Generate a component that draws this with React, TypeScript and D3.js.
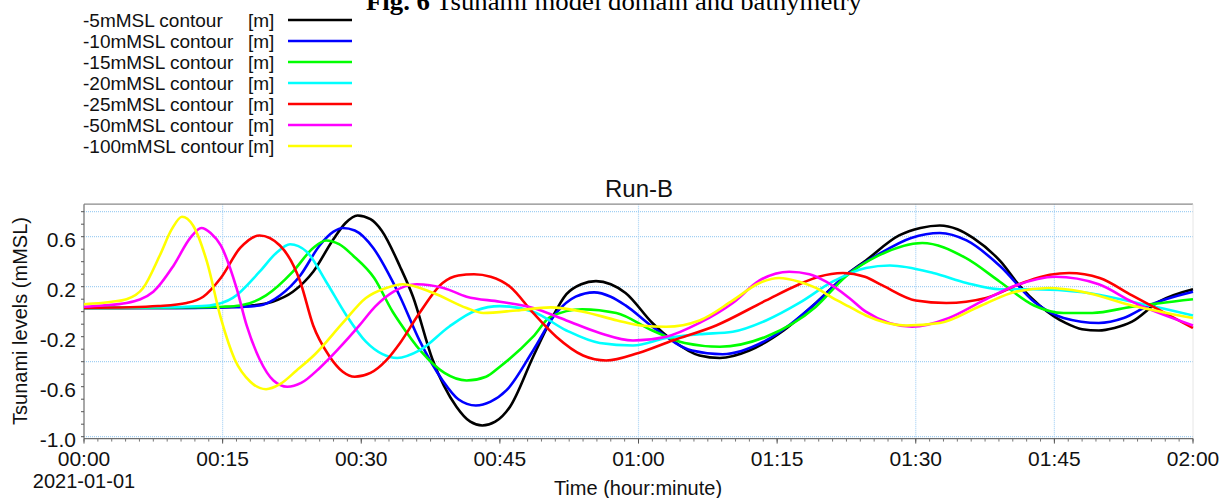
import React from 'react';
import * as d3 from 'd3';

type Pt = [number, number];

// time in minutes, level in mMSL
const contour5: Pt[] = [[0,0.03],[10,0.03],[15,0.035],[17.6,0.045],[20.4,0.08],[22.6,0.16],[24.8,0.32],[26.9,0.57],[28.3,0.71],[29.6,0.77],[31,0.74],[32.2,0.65],[34.2,0.36],[35.6,0.12],[37.7,-0.38],[40.3,-0.76],[41.8,-0.88],[43.1,-0.91],[44.5,-0.88],[46.1,-0.76],[48.6,-0.36],[50.5,-0.07],[52.2,0.14],[53.8,0.22],[55.4,0.245],[57,0.22],[58.6,0.15],[61.5,-0.09],[63.7,-0.23],[66.6,-0.35],[68.8,-0.37],[72,-0.31],[75.7,-0.15],[79.2,0.07],[82.4,0.29],[84.6,0.41],[88.2,0.61],[90.5,0.67],[92.6,0.69],[94.5,0.66],[96.2,0.59],[99.2,0.4],[101.2,0.21],[103.4,0.05],[106.2,-0.09],[108,-0.14],[109.8,-0.15],[111.5,-0.13],[113.4,-0.08],[116.3,0.08],[120,0.18]];
const contour10: Pt[] = [[0,0.03],[12,0.03],[16,0.035],[19,0.05],[21.2,0.13],[23.4,0.29],[25.5,0.53],[27,0.64],[28,0.67],[29.3,0.65],[31.3,0.51],[33.4,0.24],[34.2,0.12],[36.3,-0.23],[38.8,-0.55],[40.5,-0.7],[42.4,-0.75],[44,-0.72],[45.7,-0.63],[48.6,-0.31],[51.1,-0.01],[53.2,0.12],[55.2,0.155],[57,0.12],[58.6,0.05],[61.5,-0.12],[65.8,-0.31],[69.1,-0.34],[73.8,-0.23],[79.2,0.07],[82.4,0.29],[86,0.46],[89.5,0.59],[92.6,0.63],[95.5,0.57],[99.2,0.36],[102.8,0.08],[106,-0.05],[109.8,-0.09],[112.5,-0.05],[115.2,0.05],[120,0.16]];
const contour15: Pt[] = [[0,0.03],[12,0.035],[15,0.04],[16.9,0.05],[19.7,0.13],[22.6,0.32],[24.8,0.51],[26.2,0.57],[27.6,0.54],[29.1,0.45],[31.4,0.27],[33.4,0.0],[34.2,-0.09],[36.5,-0.32],[39,-0.49],[41.4,-0.55],[43.5,-0.52],[45,-0.44],[48.6,-0.2],[50.5,-0.04],[53.9,0.02],[57.6,-0.01],[61.5,-0.15],[65,-0.25],[68.8,-0.28],[73.8,-0.2],[79.2,0.04],[82.4,0.28],[86,0.45],[90.7,0.55],[95.4,0.43],[99.1,0.24],[102.8,0.05],[106,-0.01],[109.1,-0.01],[113.4,0.04],[120,0.1]];
const contour20: Pt[] = [[0,0.03],[8,0.035],[11,0.04],[13.6,0.05],[16.1,0.11],[19,0.32],[20.8,0.47],[22.3,0.54],[24.1,0.48],[26.2,0.24],[28.4,-0.03],[30.5,-0.24],[32.3,-0.34],[33.9,-0.37],[36.3,-0.31],[39.5,-0.12],[42.4,0.01],[45,0.045],[48.6,0.0],[52.2,-0.15],[55.8,-0.25],[59.4,-0.27],[63,-0.21],[66.6,-0.18],[70.2,-0.16],[73.8,-0.07],[77.4,0.07],[81,0.24],[84.6,0.35],[87.2,0.37],[91.9,0.31],[95.5,0.23],[99.1,0.18],[102.7,0.18],[108.1,0.155],[113.4,0.08],[120,-0.03]];
const contour25: Pt[] = [[0,0.03],[5,0.035],[8,0.045],[11.1,0.07],[12.9,0.12],[14.8,0.27],[16.9,0.51],[19,0.61],[21.2,0.53],[23.4,0.24],[24.8,-0.11],[26.5,-0.35],[28,-0.48],[29.3,-0.52],[31,-0.49],[32.7,-0.39],[34.2,-0.25],[36.3,-0.01],[38.8,0.23],[40.5,0.29],[42.2,0.3],[44,0.28],[46.1,0.2],[48.6,-0.01],[51.1,-0.2],[54,-0.35],[56.5,-0.39],[60,-0.33],[63.7,-0.23],[68.4,-0.11],[73.8,0.09],[77.4,0.22],[79.5,0.28],[82.1,0.31],[84.5,0.28],[86.4,0.21],[90,0.09],[93.3,0.07],[97.6,0.11],[101.9,0.24],[104.5,0.295],[106.6,0.31],[109.9,0.27],[113.4,0.13],[120,-0.13]];
const contour50: Pt[] = [[0,0.04],[2,0.05],[4.6,0.07],[7.5,0.16],[9.7,0.37],[11.5,0.59],[12.7,0.67],[13.7,0.63],[14.8,0.53],[16.5,0.19],[17.6,-0.11],[19,-0.38],[20.5,-0.55],[22,-0.6],[23.5,-0.57],[25.5,-0.45],[27.5,-0.3],[29.8,-0.11],[31.5,0.04],[33.5,0.16],[36,0.22],[38.9,0.19],[41.4,0.12],[45,0.08],[48.6,0.03],[52.2,-0.07],[55.8,-0.17],[59.4,-0.23],[63,-0.2],[66.6,-0.09],[70.2,0.07],[73.1,0.25],[76.3,0.32],[78.5,0.3],[80.3,0.24],[82.8,0.11],[84.6,0.0],[89.6,-0.12],[93.6,-0.05],[97.1,0.08],[100.8,0.21],[105.1,0.28],[109.8,0.22],[113.4,0.08],[120,-0.11]];
const contour100: Pt[] = [[0,0.06],[1,0.065],[3,0.08],[4.6,0.1],[6.4,0.19],[8.2,0.45],[9.5,0.66],[10.6,0.76],[11.8,0.69],[13.3,0.4],[14.8,-0.05],[16.3,-0.38],[18,-0.56],[19.7,-0.62],[21.2,-0.58],[23,-0.47],[25,-0.34],[28,-0.09],[30.5,0.11],[32.7,0.19],[34.5,0.22],[37.8,0.15],[41.4,0.03],[43.2,-0.01],[46.8,0.01],[50.5,0.035],[54,0.0],[57.7,-0.07],[60.2,-0.11],[63,-0.12],[66.6,-0.07],[70.2,0.09],[73.1,0.23],[75.2,0.27],[77.4,0.24],[79.2,0.19],[81,0.11],[82.8,0.04],[84.6,-0.03],[88.9,-0.11],[92.6,-0.09],[97.1,0.05],[100.8,0.16],[104.4,0.19],[108,0.16],[113.4,0.05],[120,-0.05]];

const seriesNames = ['-5mMSL contour', '-10mMSL contour', '-15mMSL contour', '-20mMSL contour', '-25mMSL contour', '-50mMSL contour', '-100mMSL contour'];
const seriesColors = ['#000000', '#0000ff', '#00ff00', '#00ffff', '#ff0000', '#ff00ff', '#ffff00'];
const seriesData = [contour5, contour10, contour15, contour20, contour25, contour50, contour100];

const xTickMinutes = [0, 15, 30, 45, 60, 75, 90, 105, 120];
const xTickLabels = ['00:00', '00:15', '00:30', '00:45', '01:00', '01:15', '01:30', '01:45', '02:00'];
const xGridMinutes = [15, 60, 90, 105];
const yTickValues = [0.6, 0.2, -0.2, -0.6, -1.0];
const yTickLabels = ['0.6', '0.2', '-0.2', '-0.6', '-1.0'];
const yGridValues = [0.8, 0.6, 0.2, -0.4, -1.0];

const W = 1226, H = 498;
const sans = '"Liberation Sans", Arial, sans-serif';

export default function App() {
  const x = d3.scaleLinear().domain([0, 120]).range([84, 1193]);
  const y = d3.scaleLinear().domain([-1, 0.8]).range([436.7, 211.7]);
  const top = y(0.86);
  const bottom = y(-1.015);
  const line = d3.line<Pt>().x(d => x(d[0])).y(d => y(d[1])).curve(d3.curveMonotoneX);

  const minorX = d3.range(0, 120.01, 1.5);
  const minorY = d3.range(-1, 0.81, 0.1);

  return (
    <svg width={W} height={H} style={{ position: 'absolute', left: 0, top: 0, background: '#fff' }}>
      {/* caption of the page above, cut at the top as in the scan */}
      <text x={366} y={10} fontFamily='"Liberation Serif", "Times New Roman", serif' fontSize={25}
        textLength={496} lengthAdjust="spacingAndGlyphs">
        <tspan fontWeight="bold">Fig. 6</tspan> Tsunami model domain and bathymetry
      </text>

      {/* legend */}
      {seriesNames.map((name, i) => {
        const cy = 20 + i * 21;
        return (
          <g key={name} fontFamily={sans} fontSize={19} fill="#111">
            <text x={83} y={cy + 6.5}>{name}</text>
            <text x={248} y={cy + 6.5}>[m]</text>
            <line x1={288} x2={352} y1={cy} y2={cy} stroke={seriesColors[i]} strokeWidth={2.5} />
          </g>
        );
      })}

      <text x={639} y={197} textAnchor="middle" fontFamily={sans} fontSize={24} fill="#111">Run-B</text>

      {/* grid */}
      {yGridValues.map(v => (
        <line key={'gy' + v} x1={x(0)} x2={x(120)} y1={y(v)} y2={y(v)} stroke="#8cc4f0" strokeWidth={1} strokeDasharray="1,1" />
      ))}
      {xGridMinutes.map(m => (
        <line key={'gx' + m} x1={x(m)} x2={x(m)} y1={top} y2={bottom} stroke="#a8d2f4" strokeWidth={1.2} strokeDasharray="1,1" />
      ))}

      {/* frame */}
      <line x1={x(0)} x2={x(120)} y1={top} y2={top} stroke="#8a8a8a" strokeWidth={1.2} />
      <line x1={x(120)} x2={x(120)} y1={top} y2={bottom} stroke="#e6e6e6" strokeWidth={1} />
      <line x1={x(0)} x2={x(0)} y1={top} y2={bottom} stroke="#6e6e6e" strokeWidth={1.2} />
      <line x1={x(0)} x2={x(120)} y1={bottom} y2={bottom} stroke="#6e6e6e" strokeWidth={1.2} />

      {/* series */}
      {seriesData.map((d, i) => (
        <path key={seriesNames[i]} d={line(d) || ''} fill="none" stroke={seriesColors[i]} strokeWidth={2.6} strokeLinejoin="round" />
      ))}

      {/* y axis ticks */}
      {minorY.map(v => (
        <line key={'my' + v} x1={x(0) - 3} x2={x(0)} y1={y(v)} y2={y(v)} stroke="#555" strokeWidth={1} />
      ))}
      {yTickValues.map((v, i) => (
        <text key={'ty' + v} x={76} y={y(v) + 10} textAnchor="end" fontFamily={sans} fontSize={21} fill="#111">{yTickLabels[i]}</text>
      ))}

      {/* x axis ticks */}
      {minorX.map(m => (
        <line key={'mx' + m} x1={x(m)} x2={x(m)} y1={bottom} y2={bottom + 3} stroke="#777" strokeWidth={1} />
      ))}
      {xTickMinutes.map((m, i) => (
        <g key={'tx' + m}>
          <line x1={x(m)} x2={x(m)} y1={bottom} y2={bottom + 5} stroke="#555" strokeWidth={1} />
          <text x={x(m)} y={466} textAnchor="middle" fontFamily={sans} fontSize={21} fill="#111">{xTickLabels[i]}</text>
        </g>
      ))}
      <text x={x(0)} y={488} textAnchor="middle" fontFamily={sans} fontSize={20} fill="#111">2021-01-01</text>

      <text x={638} y={495} textAnchor="middle" fontFamily={sans} fontSize={20} fill="#111">Time (hour:minute)</text>
      <text transform="translate(27,321) rotate(-90)" textAnchor="middle" fontFamily={sans} fontSize={20} fill="#111">Tsunami levels (mMSL)</text>
    </svg>
  );
}
